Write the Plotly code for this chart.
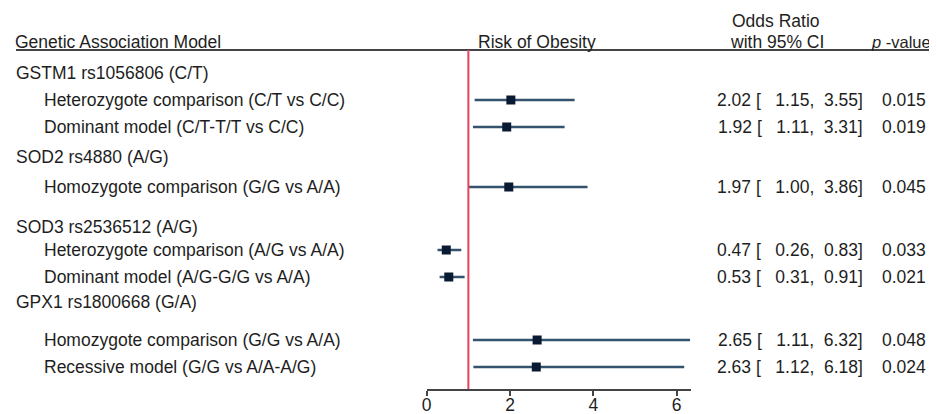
import plotly.graph_objects as go

# ---- data ----
groups = ["GSTM1 rs1056806 (C/T)", "SOD2 rs4880 (A/G)", "SOD3 rs2536512 (A/G)", "GPX1 rs1800668 (G/A)"]
models = [
    "Heterozygote comparison (C/T vs C/C)",
    "Dominant model (C/T-T/T vs C/C)",
    "Homozygote comparison (G/G vs A/A)",
    "Heterozygote comparison (A/G vs A/A)",
    "Dominant model (A/G-G/G vs A/A)",
    "Homozygote comparison (G/G vs A/A)",
    "Recessive model (G/G vs A/A-A/G)",
]
odds_ratio = [2.02, 1.92, 1.97, 0.47, 0.53, 2.65, 2.63]
ci_low = [1.15, 1.11, 1.00, 0.26, 0.31, 1.11, 1.12]
ci_high = [3.55, 3.31, 3.86, 0.83, 0.91, 6.32, 6.18]
p_values = ["0.015", "0.019", "0.045", "0.033", "0.021", "0.048", "0.024"]
x_ticks = [0, 2, 4, 6]

# ---- layout (page pixels; the page body has an 8px margin) ----
OFF = 8
W, H = 927, 406
group_row = [73, 157, 227, 302]
model_row = [100, 127, 187, 250, 277, 340, 367]
header_y = 42
rule_y = 50
axis_y = 389
x0_px, x_end_px = 426.7, 690.7
px_per_unit = 41.67

FONT = "Liberation Sans, Arial, sans-serif"
TXT = "#1e1e1e"
FS = 17.5

def Y(p):
    return p - OFF

def PX(p):
    return (p - OFF) / W

fig = go.Figure()

fig.add_trace(go.Scatter(
    x=odds_ratio, y=[Y(v) for v in model_row], mode="markers",
    marker=dict(symbol="square", size=9, color="#0b1a33"),
    error_x=dict(type="data", symmetric=False,
                 array=[h - o for h, o in zip(ci_high, odds_ratio)],
                 arrayminus=[o - l for o, l in zip(odds_ratio, ci_low)],
                 color="#34536e", thickness=2.5, width=0),
    hoverinfo="skip", showlegend=False,
))

ann = []
def txt(x, y, s, anchor="left", size=FS):
    ann.append(dict(x=PX(x), y=Y(y), xref="paper", yref="y", text=s, showarrow=False,
                    xanchor=anchor, yanchor="middle", borderpad=0, borderwidth=0,
                    font=dict(family=FONT, size=size, color=TXT)))

txt(15, header_y, "Genetic Association Model")
txt(537, header_y, "Risk of Obesity", anchor="center")
txt(776, 21, "Odds Ratio", anchor="center")
txt(777, header_y, "with 95% CI", anchor="center")
txt(931, header_y, "<i>p</i> -value", anchor="right", size=16.5)

for g, yy in zip(groups, group_row):
    txt(16, yy, g)
nb = "\u00a0"
for i, yy in enumerate(model_row):
    txt(44, yy, models[i])
    s = f"{odds_ratio[i]:.2f}{nb}[{nb}{nb}{nb}{ci_low[i]:.2f},{nb}{nb}{ci_high[i]:.2f}]"
    txt(863, yy, s, anchor="right")
    txt(926, yy, p_values[i], anchor="right")

fig.update_layout(
    width=W, height=H, margin=dict(l=0, r=0, t=0, b=0, autoexpand=False),
    paper_bgcolor="white", plot_bgcolor="white",
    annotations=ann,
    shapes=[
        dict(type="line", xref="paper", yref="y", x0=PX(16), x1=PX(931), y0=Y(rule_y), y1=Y(rule_y),
             line=dict(color="#444444", width=2)),
        dict(type="line", xref="x", yref="y", x0=1, x1=1, y0=Y(rule_y), y1=Y(axis_y),
             line=dict(color="#e8415c", width=2)),
    ],
    xaxis=dict(domain=[PX(x0_px), PX(x_end_px)], range=[0, (x_end_px - x0_px) / px_per_unit],
               tickvals=x_ticks, automargin=False, ticklabelstandoff=-6,
               showgrid=False, zeroline=False, showline=True, linecolor="#444444", linewidth=2,
               ticks="outside", ticklen=5, tickwidth=2, tickcolor="#444444",
               tickfont=dict(family=FONT, size=FS, color=TXT), fixedrange=True),
    yaxis=dict(domain=[(H - Y(axis_y)) / H, 1], range=[Y(axis_y), 0], visible=False,
               automargin=False, showgrid=False, zeroline=False, fixedrange=True),
)

fig.write_html("out.html")
